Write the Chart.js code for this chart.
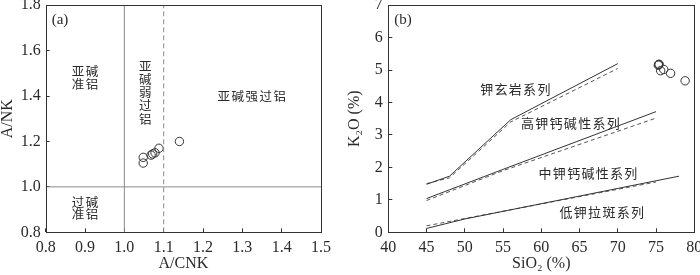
<!DOCTYPE html>
<html>
<head>
<meta charset="utf-8">
<script src="https://cdn.jsdelivr.net/npm/chart.js@4.4.0/dist/chart.umd.min.js"></script>
<style>
  body { margin: 0; background: #fff; width: 700px; height: 275px; overflow: hidden; position: relative; }
  canvas { position: absolute; top: 0; }
  #chartA { left: 0; }
  #chartB { left: 340px; }
</style>
</head>
<body>
<canvas id="chartA" width="340" height="275"></canvas>
<canvas id="chartB" width="360" height="275"></canvas>
<script>
// (a) A/CNK - A/NK
const acnk = [1.048, 1.048, 1.068, 1.072, 1.078, 1.088, 1.14];
const ank = [1.105, 1.13, 1.14, 1.145, 1.15, 1.17, 1.2];
const acnkTicks = [0.8, 0.9, 1.0, 1.1, 1.2, 1.3, 1.4, 1.5];
const ankTicks = [0.8, 1.0, 1.2, 1.4, 1.6, 1.8];
// lignes de séparation
const metaLine = 1.0;     // A/CNK = 1 (trait plein)
const perLine = 1.1;      // A/CNK = 1.1 (tirets)
const ankLine = 1.0;      // A/NK = 1

// (b) SiO2 - K2O
const sio2 = [75.3, 75.35, 75.4, 75.6, 76.0, 76.9, 78.8];
const k2o = [5.15, 5.17, 5.18, 4.98, 5.02, 4.9, 4.67];
const sio2Ticks = [40, 45, 50, 55, 60, 65, 70, 75, 80];
const k2oTicks = [0, 1, 2, 3, 4, 5, 6, 7];
// limites des séries (trait plein / tirets)
const shoSolidX = [45, 48, 56, 70];
const shoSolidY = [1.48, 1.73, 3.47, 5.2];
const shoDashX = [45, 48, 56, 70];
const shoDashY = [1.5, 1.68, 3.4, 5.05];
const hkSolidX = [45, 55, 75];
const hkSolidY = [1.04, 1.94, 3.72];
const hkDashX = [45, 55, 75];
const hkDashY = [0.98, 1.9, 3.52];
const lowSolidX = [45, 50, 78];
const lowSolidY = [0.12, 0.41, 1.73];
const lowDashX = [45, 75];
const lowDashY = [0.2, 1.55];

const serif = "'Liberation Serif', 'Times New Roman', serif";
const cjk = "'Noto Sans CJK SC', sans-serif";
const ink = '#2a2a2a';

function pts(xs, ys) {
    return xs.map((x, i) => ({ x: x, y: ys[i] }));
}

function lineSet(xs, ys, color, dash) {
    return {
        type: 'scatter', data: pts(xs, ys), showLine: true, pointRadius: 0,
        borderColor: color, borderWidth: 1, borderDash: dash || [], fill: false
    };
}

function pointSet(xs, ys) {
    return {
        type: 'scatter', data: pts(xs, ys), pointRadius: 4.2, pointStyle: 'circle',
        borderColor: '#333', borderWidth: 1, backgroundColor: 'rgba(0,0,0,0)'
    };
}

// cadre + textes dans le graphique
const framePlugin = {
    id: 'frame',
    afterDatasetsDraw(chart, args, opts) {
        const { ctx, chartArea: a } = chart;
        const sx = chart.scales.x, sy = chart.scales.y;
        ctx.save();
        ctx.strokeStyle = '#333';
        ctx.lineWidth = 1;
        ctx.strokeRect(Math.round(a.left) + 0.5, Math.round(a.top) + 0.5,
            Math.round(a.right - a.left), Math.round(a.bottom - a.top));

        ctx.fillStyle = ink;
        ctx.font = '15px ' + serif;
        ctx.textAlign = 'left';
        ctx.textBaseline = 'middle';
        ctx.fillText(opts.tag, a.left + 6, a.top + 15);

        ctx.font = opts.size + 'px ' + cjk;
        ctx.textAlign = 'center';
        (opts.labels || []).forEach(l => {
            const cx = sx.getPixelForValue(l.x);
            const cy = sy.getPixelForValue(l.y);
            const chars = Array.from(l.text);
            chars.forEach((c, i) => {
                if (l.vertical) {
                    ctx.fillText(c, cx, cy + i * opts.vstep);
                } else {
                    ctx.fillText(c, cx - (chars.length - 1) * opts.step / 2 + i * opts.step, cy);
                }
            });
        });
        ctx.restore();
    }
};

function axis(min, max, ticks, title, fixed, isX, pad, titlePad) {
    return {
        type: 'linear', min: min, max: max,
        afterBuildTicks: s => { s.ticks = ticks.map(v => ({ value: v })); },
        afterFit: s => {
            if (isX) { s.height = fixed; s.paddingLeft = 0; s.paddingRight = 0; }
            else { s.width = fixed; s.paddingTop = 0; s.paddingBottom = 0; }
        },
        grid: { drawOnChartArea: false, drawTicks: true, tickLength: -4, color: '#333' },
        border: { display: false },
        ticks: {
            color: ink, padding: pad, font: { family: serif, size: 16 },
            callback: v => (Number.isInteger(min) ? String(v) : v.toFixed(1))
        },
        title: { display: true, text: title, color: ink, font: { family: serif, size: 16, lineHeight: 1 }, padding: titlePad }
    };
}

function baseOptions(padding) {
    return {
        responsive: false, animation: false,
        layout: { padding: padding },
        plugins: { legend: { display: false }, tooltip: { enabled: false } }
    };
}

// graphique (a)
const optsA = baseOptions({ left: 0, top: 2.5, right: 19, bottom: 0 });
optsA.scales = {
    x: axis(0.8, 1.5, acnkTicks, 'A/CNK', 42.7, true, 10, { bottom: 3.5 }),
    y: axis(0.8, 1.8, ankTicks, 'A/NK', 45.7, false, 9, { top: 0 })
};
optsA.plugins.frame = {
    tag: '(a)', size: 12.5, step: 14, vstep: 13.2,
    labels: [
        { text: '亚碱', x: 0.9, y: 1.51 },
        { text: '准铝', x: 0.9, y: 1.453 },
        { text: '亚碱弱过铝', x: 1.053, y: 1.532, vertical: true },
        { text: '亚碱强过铝', x: 1.324, y: 1.397 },
        { text: '过碱', x: 0.9, y: 0.931 },
        { text: '准铝', x: 0.9, y: 0.881 }
    ]
};

new Chart(document.getElementById('chartA'), {
    type: 'scatter',
    data: {
        datasets: [
            lineSet([metaLine, metaLine], [0.8, 1.8], '#8a8a8a'),
            lineSet([perLine, perLine], [0.8, 1.8], '#8a8a8a', [5, 3]),
            lineSet([0.8, 1.5], [ankLine, ankLine], '#8a8a8a'),
            pointSet(acnk, ank)
        ]
    },
    options: optsA,
    plugins: [framePlugin]
});

// graphique (b)
const optsB = baseOptions({ left: 0, top: 2.5, right: 5.7, bottom: 0 });
optsB.scales = {
    x: axis(40, 80, sio2Ticks, 'SiO₂ (%)', 42.7, true, 10, { bottom: 3.5 }),
    y: axis(0, 7, k2oTicks, 'K₂O (%)', 48.3, false, 9.6, { top: 7 })
};
optsB.plugins.frame = {
    tag: '(b)', size: 13, step: 14.3, vstep: 14,
    labels: [
        { text: '钾玄岩系列', x: 56.6, y: 4.43 },
        { text: '高钾钙碱性系列', x: 63.8, y: 3.36 },
        { text: '中钾钙碱性系列', x: 66.1, y: 1.82 },
        { text: '低钾拉斑系列', x: 67.9, y: 0.63 }
    ]
};

new Chart(document.getElementById('chartB'), {
    type: 'scatter',
    data: {
        datasets: [
            lineSet(shoSolidX, shoSolidY, '#333'),
            lineSet(shoDashX, shoDashY, '#555', [4, 3]),
            lineSet(hkSolidX, hkSolidY, '#333'),
            lineSet(hkDashX, hkDashY, '#555', [4, 3]),
            lineSet(lowSolidX, lowSolidY, '#333'),
            lineSet(lowDashX, lowDashY, '#555', [4, 3]),
            pointSet(sio2, k2o)
        ]
    },
    options: optsB,
    plugins: [framePlugin]
});
</script>
</body>
</html>
